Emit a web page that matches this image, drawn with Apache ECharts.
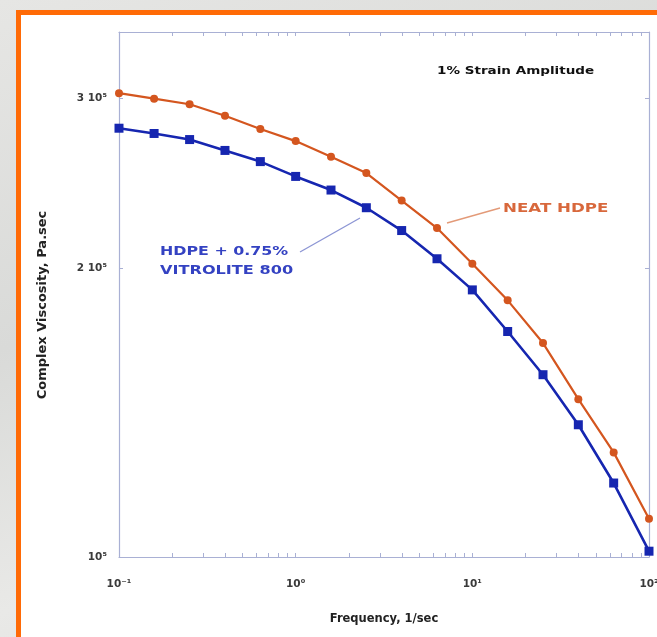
<!DOCTYPE html>
<html>
<head>
<meta charset="utf-8">
<title>Complex Viscosity vs Frequency</title>
<script src="https://cdn.jsdelivr.net/npm/echarts@6/dist/echarts.min.js"></script>
<style>
  html, body { margin: 0; padding: 0; }
  body {
    width: 657px; height: 637px; overflow: hidden; position: relative;
    background: linear-gradient(160deg, #e6e6e4 0%, #d9dad8 40%, #e9e9e7 70%, #dcdcda 100%);
  }
  #frame {
    position: absolute; left: 16px; top: 10px; width: 700px; height: 700px;
    box-sizing: border-box; border-left: 5px solid #ff6a06; border-top: 5px solid #ff6a06;
    background: #ffffff;
  }
  #chart { position: absolute; left: 0; top: 0; width: 657px; height: 637px; }
</style>
</head>
<body>
<div id="frame"></div>
<div id="chart"></div>
<script>
// Oscillatory frequency sweep, 5 points per decade from 0.1 to 100 1/sec
const frequency = [0.1, 0.158, 0.251, 0.398, 0.631, 1, 1.585, 2.512, 3.981, 6.31, 10, 15.85, 25.12, 39.81, 63.1, 100];

// Complex viscosity, Pa.sec
const neatHdpe = [304000, 300000, 296000, 288000, 279000, 271000, 261000, 251000, 235000, 220000, 202000, 185000, 167000, 146000, 128500, 109600];
const hdpeVitrolite = [279500, 276000, 272000, 265000, 258000, 249000, 241000, 231000, 218700, 204400, 189700, 171700, 154800, 137300, 119400, 101400];

// Axis ticks and labels
const xLabelValues = [0.1, 1, 10, 100];
const xLabelTexts = ['10\u207B\u00B9', '10\u2070', '10\u00B9', '10\u00B2'];
const yLabelValues = [100000, 200000, 300000];
const yLabelTexts = ['10\u2075', '2 10\u2075', '3 10\u2075'];
const xMinorTicks = [0.2, 0.3, 0.4, 0.5, 0.6, 0.7, 0.8, 0.9, 1, 2, 3, 4, 5, 6, 7, 8, 9, 10, 20, 30, 40, 50, 60, 70, 80, 90];
const yTicks = [200000, 300000];

const ORANGE = '#d4561f';
const BLUE = '#1626b0';
const AXIS = '#a9b0d4';
const FONT = '"DejaVu Sans", "Liberation Sans", Arial, sans-serif';

const pair = (xs, ys) => xs.map((x, i) => [x, ys[i]]);
const labelFor = (values, texts) => v => {
  let best = 0;
  values.forEach((c, i) => { if (Math.abs(c - v) < Math.abs(values[best] - v)) best = i; });
  return texts[best];
};

const chart = echarts.init(document.getElementById('chart'), null, { renderer: 'canvas' });

const baseX = {
  type: 'log', logBase: 10, min: 0.1, max: 100,
  axisLine: { show: true, lineStyle: { color: AXIS, width: 1.2 } },
  axisTick: { show: true, inside: true, length: 4, customValues: xMinorTicks, lineStyle: { color: AXIS } },
  splitLine: { show: false },
  minorTick: { show: false }
};
const baseY = {
  type: 'log', logBase: 10, min: 100000, max: 352000,
  axisLine: { show: true, lineStyle: { color: AXIS, width: 1.2 } },
  axisTick: { show: true, inside: true, length: 4, customValues: yTicks, lineStyle: { color: AXIS } },
  splitLine: { show: false },
  minorTick: { show: false }
};

// Stretched bold annotation text
const note = (text, x, y, size, color, sx) => ({
  type: 'text', x: x, y: y, scaleX: sx,
  style: {
    text: text, fill: color, font: 'bold ' + size + 'px ' + FONT,
    textAlign: 'left', textVerticalAlign: 'middle'
  }
});

chart.setOption({
  backgroundColor: 'transparent',
  animation: false,
  grid: { left: 119, right: 8, top: 32, bottom: 80, containLabel: false, outerBoundsMode: 'none' },
  xAxis: [
    Object.assign({}, baseX, {
      position: 'bottom',
      axisLabel: {
        show: true, customValues: xLabelValues, margin: 22,
        formatter: labelFor(xLabelValues, xLabelTexts),
        color: '#3a3a3a', fontSize: 10.5, fontWeight: 'bold', fontFamily: FONT
      },
      name: 'Frequency, 1/sec', nameLocation: 'middle', nameGap: 56,
      nameTextStyle: { color: '#222', fontSize: 11.5, fontWeight: 'bold', fontFamily: FONT }
    }),
    Object.assign({}, baseX, { position: 'top', axisLabel: { show: false } })
  ],
  yAxis: [
    Object.assign({}, baseY, {
      position: 'left',
      axisLabel: {
        show: true, customValues: yLabelValues, margin: 12,
        formatter: labelFor(yLabelValues, yLabelTexts),
        color: '#3a3a3a', fontSize: 10.5, fontWeight: 'bold', fontFamily: FONT
      }
    }),
    Object.assign({}, baseY, { position: 'right', axisLabel: { show: false } })
  ],
  series: [
    {
      name: 'NEAT HDPE', type: 'line', xAxisIndex: 0, yAxisIndex: 0,
      data: pair(frequency, neatHdpe),
      symbol: 'circle', symbolSize: 8,
      lineStyle: { color: ORANGE, width: 2.2 },
      itemStyle: { color: ORANGE },
      z: 3
    },
    {
      name: 'HDPE + 0.75% VITROLITE 800', type: 'line', xAxisIndex: 0, yAxisIndex: 0,
      data: pair(frequency, hdpeVitrolite),
      symbol: 'rect', symbolSize: 9,
      lineStyle: { color: BLUE, width: 2.6 },
      itemStyle: { color: BLUE },
      z: 4
    }
  ],
  graphic: [
    {
      type: 'text', x: 43, y: 305, rotation: Math.PI / 2,
      style: {
        text: 'Complex Viscosity, Pa.sec', fill: '#222', font: 'bold 13px ' + FONT,
        textAlign: 'center', textVerticalAlign: 'middle'
      }
    },
    note('1% Strain Amplitude', 437, 71, 11, '#111', 1.23),
    {
      type: 'line', shape: { x1: 447, y1: 223, x2: 500, y2: 208 },
      style: { stroke: '#e39a78', lineWidth: 1.3 }
    },
    note('NEAT HDPE', 503, 209, 13, '#d8683c', 1.28),
    {
      type: 'line', shape: { x1: 300, y1: 252, x2: 360, y2: 218 },
      style: { stroke: '#8c95d4', lineWidth: 1.3 }
    },
    note('HDPE + 0.75%', 160, 252, 13, '#3442c2', 1.22),
    note('VITROLITE 800', 160, 271, 13, '#3442c2', 1.24)
  ]
});
</script>
</body>
</html>
